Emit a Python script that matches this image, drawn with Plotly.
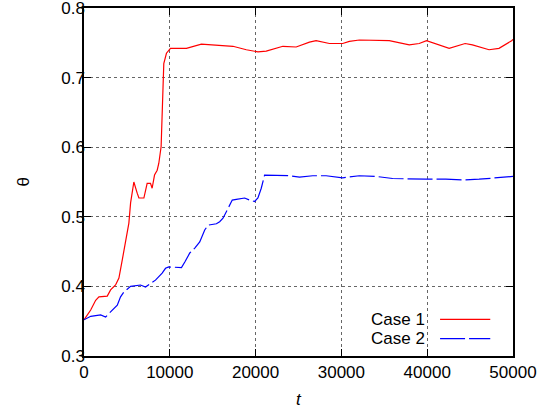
import plotly.graph_objects as go

# Case 1 (red)
t1 = [0, 780, 1360, 1740, 2710, 3100, 3680, 4070, 4460, 4840, 5230, 5430, 5810,
      6200, 6400, 6980, 7360, 7750, 7940, 8220, 8530, 8720, 8910, 8990, 9300, 9610,
      10080, 11630, 11940, 13680, 15810, 17360, 18920, 20270, 21240, 23180, 24730,
      26280, 27050, 28600, 30150, 30930, 32090, 34420, 35580, 37910, 39070, 39920,
      41010, 42560, 44420, 45270, 47210, 48370, 49840, 50000]
th1 = [0.352, 0.366, 0.380, 0.385, 0.386, 0.395, 0.402, 0.412, 0.438, 0.462, 0.491, 0.520, 0.550,
       0.534, 0.527, 0.527, 0.548, 0.548, 0.541, 0.560, 0.567, 0.577, 0.596, 0.601, 0.720, 0.735,
       0.742, 0.742, 0.742, 0.748, 0.746, 0.745, 0.740, 0.737, 0.738, 0.745, 0.744,
       0.751, 0.753, 0.749, 0.749, 0.752, 0.754, 0.754, 0.753, 0.747, 0.749, 0.753,
       0.748, 0.742, 0.749, 0.747, 0.740, 0.742, 0.753, 0.755]

# Case 2 (blue)
t2 = [0, 780, 1940, 2520, 2910, 3490, 3880, 4260, 4650, 5430, 6590, 7170, 7750, 8330,
      9110, 9500, 9880, 11240, 11360, 11750, 12330, 12910, 13490, 14070, 14460, 15430,
      15810, 16200, 16780, 17280, 17750, 18720, 19300, 19880, 20270, 20660, 21050,
      21630, 22790, 23950, 25120, 26660, 28220, 30150, 32090, 34030, 35970, 38290,
      39850, 42170, 44110, 46050, 47990, 49540, 50000]
th2 = [0.352, 0.357, 0.359, 0.356, 0.361, 0.368, 0.373, 0.385, 0.392, 0.400, 0.402, 0.399, 0.404, 0.409,
       0.419, 0.426, 0.428, 0.428, 0.427, 0.435, 0.448, 0.455, 0.464, 0.481, 0.488, 0.490,
       0.493, 0.498, 0.512, 0.524, 0.525, 0.527, 0.524, 0.522, 0.527, 0.541, 0.560,
       0.560, 0.560, 0.559, 0.557, 0.559, 0.559, 0.556, 0.559, 0.558, 0.555, 0.554,
       0.554, 0.554, 0.553, 0.554, 0.556, 0.558, 0.558]

x_ticks = [0, 10000, 20000, 30000, 40000, 50000]
y_ticks = [0.3, 0.4, 0.5, 0.6, 0.7, 0.8]
names = ["Case 1", "Case 2"]

FONT = "Liberation Sans, Arial, Helvetica, sans-serif"

fig = go.Figure()
fig.add_trace(go.Scatter(x=t1, y=th1, mode="lines", name=names[0],
                         line=dict(color="#ff0000", width=1.2), showlegend=False))
fig.add_trace(go.Scatter(x=t2, y=th2, mode="lines", name=names[1],
                         line=dict(color="#0000ff", width=1.2, dash="25px,4px"), showlegend=False))

axis_common = dict(
    showline=True, linecolor="black", linewidth=1.5, mirror="allticks",
    ticks="inside", ticklen=7, tickwidth=1.2, tickcolor="black",
    showgrid=True, gridcolor="#666666", gridwidth=1, griddash="dot",
    zeroline=False, automargin=False, ticklabeloverflow="allow",
    tickfont=dict(family=FONT, size=17, color="black"),
)

fig.update_xaxes(range=[0, 50000], tickvals=x_ticks, ticktext=[str(v) for v in x_ticks],
                 ticklabelstandoff=0, **axis_common)
fig.update_yaxes(range=[0.3, 0.8], tickvals=y_ticks, ticktext=[f"{v:.1f}" for v in y_ticks],
                 ticklabelstandoff=-6, **axis_common)

# axis titles
fig.add_annotation(text="θ", xref="paper", yref="paper", x=-0.168, y=0.5,
                   showarrow=False, textangle=-90,
                   font=dict(family=FONT, size=17, color="black"))
fig.add_annotation(text="<i>t</i>", xref="paper", yref="paper", x=0.502, y=-0.158,
                   showarrow=False, font=dict(family=FONT, size=17, color="black"))

# legend (gnuplot style: text right-aligned, sample to the right)
leg_y = [0.105, 0.05]
leg_col = ["#ff0000", "#0000ff"]
leg_dash = ["solid", "25px,4px"]
for nm, yy, c, d in zip(names, leg_y, leg_col, leg_dash):
    fig.add_annotation(text=nm, xref="paper", yref="paper", x=0.80, y=yy,
                       xanchor="right", yanchor="middle", showarrow=False,
                       font=dict(family=FONT, size=17, color="black"))
    fig.add_shape(type="line", xref="paper", yref="paper", x0=0.83, x1=0.947, y0=yy, y1=yy,
                  line=dict(color=c, width=1.2, dash=d))

fig.update_layout(
    width=553, height=413,
    margin=dict(l=84, r=40, t=8, b=57),
    paper_bgcolor="white", plot_bgcolor="white",
    showlegend=False,
)

fig.write_html("out.html", config={"displayModeBar": False},
               post_script="document.body.style.margin='0';")
